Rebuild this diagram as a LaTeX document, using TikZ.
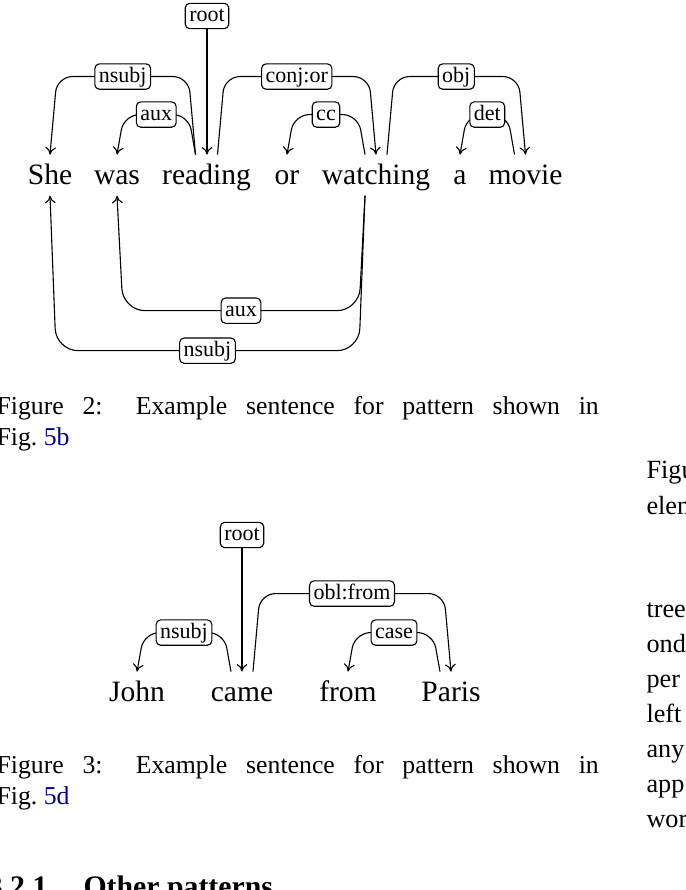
\documentclass[tikz,border=0pt]{standalone}
\usepackage{fontspec}
\setmainfont{Liberation Serif}
\usepackage{xcolor}
\usetikzlibrary{calc,arrows.meta}
\definecolor{linkblue}{RGB}{0,0,139}

\tikzset{
  >={To[length=3.4pt,width=4.8pt]},
  word/.style={anchor=base, inner sep=0pt, text height=13pt, text depth=5pt,
    font=\fontsize{13.3}{16}\selectfont},
  dep/.style={draw, fill=white, rounded corners=2pt, inner xsep=1.8pt, inner ysep=1.2pt,
    text height=7pt, text depth=2pt, font=\fontsize{9.9}{12}\selectfont},
  deparc/.style={rounded corners=7pt},
  lowdeparc/.style={rounded corners=10pt},
  capline/.style={anchor=base west, inner sep=0pt, font=\fontsize{11.6}{14}\selectfont},
  bodyline/.style={anchor=base west, inner sep=0pt, font=\fontsize{11.8}{14}\selectfont},
  secline/.style={inner sep=0pt, font=\bfseries\fontsize{13.4}{16}\selectfont},
}

\begin{document}
\begin{tikzpicture}[x=0.45pt, y=-0.45pt, line width=0.5pt]
  \useasboundingbox (0,0) rectangle (686,890);
  \clip (0,0) rectangle (686,890);
  \fill[white] (0,0) rectangle (686,890);

  % Figure 2: words
  \node[word] (she) at (50,184) {She};
  \node[word] (was) at (117,184) {was};
  \node[word] (reading) at (206.5,184) {reading};
  \node[word] (or) at (287,184) {or};
  \node[word] (watching) at (376,184) {watching};
  \node[word] (a) at (460,184) {a};
  \node[word] (movie) at (525.5,184) {movie};

  % Figure 2: arcs above
  \node[dep] (rootA) at (207,16) {root};
  \draw[->] (rootA) -- (rootA |- reading.north);
  \draw[deparc,->] ($(reading.north)+(-11,0)$) -- ++(-7,-78)
    -- node[dep] (nsubjA) {nsubj} ($(she.north)+(7,-78)$) -- (she.north);
  \draw[deparc,->] ($(reading.north)+(-11,0)$) -- ++(-7,-40)
    -- node[dep] (auxA) {aux} ($(was.north)+(7,-40)$) -- (was.north);
  \draw[deparc,->] ($(reading.north)+(11,0)$) -- ++(7,-78)
    -- node[dep] (conjA) {conj:or} ($(watching.north)+(-7,-78)$) -- (watching.north);
  \draw[deparc,->] ($(watching.north)+(-11,0)$) -- ++(-7,-40)
    -- node[dep] (ccA) {cc} ($(or.north)+(7,-40)$) -- (or.north);
  \draw[deparc,->] ($(watching.north)+(11,0)$) -- ++(7,-78)
    -- node[dep] (objA) {obj} ($(movie.north)+(-7,-78)$) -- (movie.north);
  \draw[deparc,->] ($(movie.north)+(-11,0)$) -- ++(-7,-40)
    -- node[dep] (detA) {det} ($(a.north)+(7,-40)$) -- (a.north);

  % Figure 2: arcs below
  \draw[lowdeparc,->] ($(watching.south)+(-11,0)$) -- ++(-6,115)
    -- node[dep] (auxB) {aux} ($(was.south)+(6,115)$) -- (was.south);
  \draw[lowdeparc,->] ($(watching.south)+(-11,0)$) -- ++(-6,155)
    -- node[dep] (nsubjB) {nsubj} ($(she.south)+(6,155)$) -- (she.south);

  % Figure 2: caption
  \node[capline] (capA) at (-4,414)
    {\makebox[271pt][s]{Figure 2: Example sentence for pattern shown in}};
  \node[capline] (capAb) at (-4,445) {Fig.~\textcolor{linkblue}{5b}};

  % Figure 3: words
  \node[word] (john) at (137,701) {John};
  \node[word] (came) at (242,701) {came};
  \node[word] (from) at (348,701) {from};
  \node[word] (paris) at (451,701) {Paris};

  % Figure 3: arcs
  \node[dep] (rootB) at (242,535) {root};
  \draw[->] (rootB) -- (rootB |- came.north);
  \draw[deparc,->] ($(came.north)+(-11,0)$) -- ++(-7,-39)
    -- node[dep] (nsubjC) {nsubj} ($(john.north)+(7,-39)$) -- (john.north);
  \draw[deparc,->] ($(came.north)+(11,0)$) -- ++(7,-78)
    -- node[dep] (oblC) {obl:from} ($(paris.north)+(-7,-78)$) -- (paris.north);
  \draw[deparc,->] ($(paris.north)+(-11,0)$) -- ++(-7,-39)
    -- node[dep] (caseC) {case} ($(from.north)+(7,-39)$) -- (from.north);

  % Figure 3: caption
  \node[capline] (capB) at (-4,773)
    {\makebox[271pt][s]{Figure 3: Example sentence for pattern shown in}};
  \node[capline] (capBb) at (-4,804) {Fig.~\textcolor{linkblue}{5d}};

  % right column, cut at the edge
  \foreach \txt/\yy in {Figu/478, elem/514, tree/617, ond/652, per/687,
                        left/722, any/757, app/792, wor/827}
    \node[bodyline] (col\yy) at (646,\yy) {\txt};

  % section heading, cut at the bottom
  \node[secline, anchor=base east] (secnum) at (48,896) {3.2.1};
  \node[secline, anchor=base west] (sectitle) at (83,896) {Other patterns};
\end{tikzpicture}
\end{document}
